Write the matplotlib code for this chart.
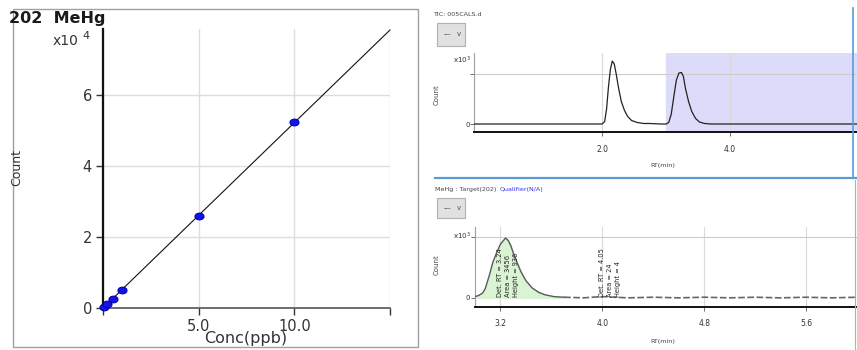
import numpy as np
import matplotlib
matplotlib.use("Agg")
import matplotlib.pyplot as plt
from matplotlib.lines import Line2D
from matplotlib.patches import Rectangle

# calibration curve (Count in units of x10^4)
conc_ppb = [0.05, 0.2, 0.5, 1.0, 5.0, 10.0]
count_e4 = [0.02, 0.10, 0.25, 0.50, 2.58, 5.24]
cal_xticks = [0, 5, 10, 15]
cal_xlabels = ["", "5.0", "10.0", ""]
cal_yticks = [0, 2, 4, 6]

# TIC trace (Count x10^3)
tic_rt = [0.0, 2.00, 2.04, 2.07, 2.10, 2.13, 2.16, 2.19, 2.22, 2.26, 2.30, 2.35,
          2.40, 2.46, 2.55, 2.65, 2.75, 2.90, 3.00, 3.04, 3.08, 3.12, 3.16, 3.20,
          3.24, 3.27, 3.30, 3.35, 3.40, 3.46, 3.52, 3.60, 3.70, 5.98]
tic_count = [0.0, 0.0, 0.05, 0.30, 0.75, 1.10, 1.26, 1.20, 1.00, 0.70, 0.45, 0.27,
             0.15, 0.07, 0.03, 0.01, 0.01, 0.0, 0.0, 0.03, 0.20, 0.55, 0.88, 1.02,
             1.03, 0.95, 0.72, 0.45, 0.25, 0.11, 0.04, 0.01, 0.0, 0.0]
tic_xticks = [2.0, 4.0]

# MeHg target trace (Count x10^3)
eic_rt = [3.00, 3.03, 3.06, 3.08, 3.11, 3.14, 3.17, 3.20, 3.22, 3.24, 3.26, 3.28,
          3.30, 3.33, 3.36, 3.40, 3.45, 3.50, 3.55, 3.62, 3.70, 3.85, 4.00, 4.20,
          4.40, 4.60, 4.80, 5.00, 5.20, 5.40, 5.60, 5.80, 6.00]
eic_count = [0.02, 0.04, 0.08, 0.15, 0.35, 0.58, 0.74, 0.88, 0.93, 0.98, 0.94, 0.86,
             0.74, 0.58, 0.43, 0.28, 0.16, 0.09, 0.05, 0.02, 0.01, 0.0, 0.02, 0.0,
             0.01, 0.0, 0.01, 0.0, 0.01, 0.0, 0.01, 0.0, 0.01]
eic_xticks = [3.2, 4.0, 4.8, 5.6]
peak1_notes = ["Det. RT = 3.24", "Area = 3456", "Height = 936"]
peak2_notes = ["Det. RT = 4.05", "Area = 24", "Height = 4"]

W, H = 857, 350
fig = plt.figure(figsize=(W / 100, H / 100), dpi=100)


def px_axes(l, t, r, b):
    return fig.add_axes([l / W, 1 - b / H, (r - l) / W, (b - t) / H])


def ftext(x, y, s, **kw):
    return fig.text(x / W, 1 - y / H, s, **kw)


def fline(x1, y1, x2, y2, **kw):
    fig.add_artist(Line2D([x1 / W, x2 / W], [1 - y1 / H, 1 - y2 / H],
                          transform=fig.transFigure, **kw))


# ---- left panel: calibration curve ----
fig.add_artist(Rectangle((13 / W, 1 - 347 / H), 405 / W, 338 / H,
                         transform=fig.transFigure, fill=False,
                         edgecolor="#a0a0a0", lw=1))

ax = px_axes(103, 29, 390, 308)
ax.set_xlim(0, 15)
ax.set_ylim(0, 7.86)
ax.grid(True, color="#dedede", lw=1)
ax.set_axisbelow(True)
for s in ["top", "right"]:
    ax.spines[s].set_visible(False)
ax.spines["left"].set_color("#111111")
ax.spines["left"].set_linewidth(1.6)
ax.spines["bottom"].set_color("#555555")
ax.spines["bottom"].set_linewidth(1.2)
ax.set_xticks(cal_xticks)
ax.set_xticklabels(cal_xlabels)
ax.set_yticks(cal_yticks)
ax.tick_params(axis="both", direction="out", length=5, width=1,
               color="#333333", labelcolor="#333333", labelsize=10.5, pad=3)

x_arr = np.array(conc_ppb)
y_arr = np.array(count_e4)
slope = np.sum(x_arr * y_arr) / np.sum(x_arr ** 2)
ax.plot([0, 15], [0, 15 * slope], color="#111111", lw=0.8, clip_on=False)

t = np.linspace(0, 2 * np.pi, 40)
ell = list(zip(1.35 * np.cos(t), np.sin(t)))
ax.plot(conc_ppb, count_e4, linestyle="none", marker=ell, ms=6.5,
        color="#1414e6", mec="#0000b0", mew=0.8, clip_on=False, zorder=5)

ftext(9, 18, "202  MeHg", fontsize=11.5, fontweight="bold", color="#1a1a1a",
      va="center", ha="left")
ftext(78, 41, "x10", fontsize=10, color="#333333", va="center", ha="right")
ftext(82, 36, "4", fontsize=8, color="#333333", va="center", ha="left")
ftext(17, 168, "Count", fontsize=9, rotation=90, color="#333333",
      va="center", ha="center")
ftext(246, 339, "Conc(ppb)", fontsize=11.5, color="#333333",
      va="center", ha="center")

# ---- right panels ----
small = dict(fontsize=4.6, color="#444444")


def dropdown(x, y, w, h):
    fig.add_artist(Rectangle((x / W, 1 - (y + h) / H), w / W, h / H,
                             transform=fig.transFigure, facecolor="#e1e1e1",
                             edgecolor="#b0b0b0", lw=0.8))
    ftext(x + 7, y + h / 2, "---", fontsize=5, color="#333333", va="center")
    ftext(x + w - 6, y + h / 2, "v", fontsize=5, color="#555555",
          va="center", ha="center")


def trace_axes(ax_, xlim, ylim, xticks):
    ax_.set_xlim(*xlim)
    ax_.set_ylim(*ylim)
    for s in ["top", "right"]:
        ax_.spines[s].set_visible(False)
    ax_.spines["left"].set_color("#a0a0a0")
    ax_.spines["left"].set_linewidth(0.8)
    ax_.spines["bottom"].set_color("#111111")
    ax_.spines["bottom"].set_linewidth(1.4)
    ax_.set_xticks(xticks)
    ax_.set_xticklabels([f"{v:.1f}" for v in xticks])
    ax_.set_yticks([0, 1])
    ax_.set_yticklabels(["", ""])
    ax_.tick_params(axis="x", length=3, width=0.6, color="#555555",
                    labelsize=5.5, labelcolor="#333333", pad=6)
    ax_.tick_params(axis="y", length=3, width=0.6, color="#555555")
    for v in xticks:
        ax_.axvline(v, color="#dadada", lw=0.8, zorder=1)
    ax_.axhline(1.0, color="#cccccc", lw=0.8, zorder=1)


# top: TIC
ftext(433, 15, "TIC: 005CALS.d", va="center", **small)
dropdown(437, 23, 28, 23)
ax2 = px_axes(474, 53, 857, 132)
trace_axes(ax2, (0, 5.98), (-0.16, 1.42), tic_xticks)
ax2.axvspan(3.0, 5.98, color="#dcdcfa", zorder=0)
ax2.plot(tic_rt, tic_count, color="#222222", lw=0.9, zorder=3)
ftext(471, 60, "x10$^3$", fontsize=5, color="#333333", va="center", ha="right")
ftext(470, 125, "0", fontsize=5, color="#333333", va="center", ha="right")
ftext(437, 95, "Count", fontsize=5, rotation=90, color="#444444",
      va="center", ha="center")
ftext(663, 165, "RT(min)", va="center", ha="center", **small)

fline(435, 178, 857, 178, color="#5b9bd5", lw=1.6)
fline(853, 8, 853, 178, color="#5b9bd5", lw=1.2)
fline(855, 180, 855, 350, color="#b0b0b0", lw=0.8)

# bottom: MeHg target
ax3 = px_axes(475, 227, 857, 307)
t1 = ftext(435, 190, "MeHg : Target(202)", va="center", **small)
ax3.annotate("Qualifier(N/A)", xy=(1, 0.5), xycoords=t1, xytext=(2, 0),
             textcoords="offset points", fontsize=4.6, color="#3333ee",
             va="center", ha="left", annotation_clip=False)
dropdown(437, 198, 28, 20)
trace_axes(ax3, (3.0, 6.0), (-0.15, 1.16), eic_xticks)
rt = np.array(eic_rt)
cnt = np.array(eic_count)
pk = rt <= 3.70
ax3.fill_between(rt[pk], 0, cnt[pk], color="#d9f3d3", zorder=2)
ax3.plot(rt[pk], cnt[pk], color="#5a5a5a", lw=1.0, zorder=3)
tail = rt >= 3.70
ax3.plot(rt[tail], cnt[tail], color="#666666", lw=1.2, dashes=(4, 1.5), zorder=3)
for i, s in enumerate(peak1_notes):
    ax3.text(3.20 + 0.06 * i, 0.02, s, rotation=90, fontsize=4.8,
             color="#222222", va="bottom", ha="center", zorder=4)
for i, s in enumerate(peak2_notes):
    ax3.text(4.00 + 0.06 * i, 0.02, s, rotation=90, fontsize=4.8,
             color="#222222", va="bottom", ha="center", zorder=4)
ftext(471, 236, "x10$^3$", fontsize=5, color="#333333", va="center", ha="right")
ftext(470, 298, "0", fontsize=5, color="#333333", va="center", ha="right")
ftext(437, 265, "Count", fontsize=5, rotation=90, color="#444444",
      va="center", ha="center")
ftext(663, 342, "RT(min)", va="center", ha="center", **small)

fig.savefig("out.png", dpi=100, facecolor="white")
